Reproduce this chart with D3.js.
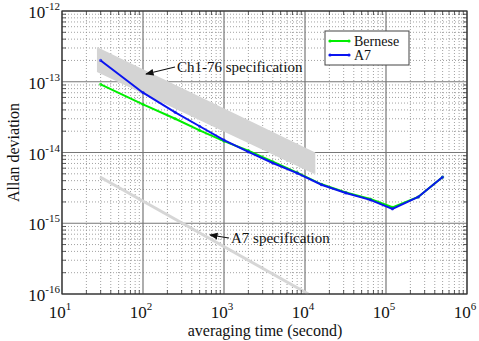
<!DOCTYPE html>
<html>
<head>
<meta charset="utf-8">
<script src="https://cdn.jsdelivr.net/npm/d3@7"></script>
<style>
  body { margin: 0; background: #fff; }
  text { font-family: "Liberation Serif", "Times New Roman", serif; fill: #111; }
</style>
</head>
<body>
<svg id="chart" width="479" height="341"></svg>
<script>
// averaging times (s) and Allan deviations
const tau = [30, 100, 250, 500, 1000, 2000, 4000, 8000, 16000, 32000, 64000, 120000, 250000, 500000];
const a7 = [2.0e-13, 7.0e-14, 3.7e-14, 2.35e-14, 1.5e-14, 1.02e-14, 7.1e-15, 5.1e-15, 3.5e-15, 2.68e-15, 2.14e-15, 1.6e-15, 2.35e-15, 4.5e-15];
const bernese = [9.2e-14, 4.8e-14, 3.0e-14, 2.05e-14, 1.45e-14, 1.06e-14, 7.4e-15, 5.2e-15, 3.55e-15, 2.72e-15, 2.2e-15, 1.68e-15, 2.35e-15, 4.5e-15];

// specification regions
const ch176Tau = [27, 13400];
const ch176Upper = [3.1e-13, 1.0e-14];
const ch176Lower = [1.37e-13, 4.9e-15];
const a7SpecTau = [29.5, 11000];
const a7SpecVal = [4.5e-15, 1.0e-16];

const xDecades = [1e1, 1e2, 1e3, 1e4, 1e5, 1e6];
const yDecades = [1e-16, 1e-15, 1e-14, 1e-13, 1e-12];

var svg = d3.select("#chart"),
  pLeft = 62, pTop = 11, pRight = 467, pBottom = 294;

var x = d3.scaleLog().domain([1e1, 1e6]).range([pLeft, pRight]);
var y = d3.scaleLog().domain([1e-16, 1e-12]).range([pBottom, pTop]);

// minor values in each decade
function minors(decades) {
  var out = [];
  decades.slice(0, -1).forEach(d => {
    for (var k = 2; k <= 9; k++) out.push(d * k);
  });
  return out;
}
var xMinor = minors(xDecades), yMinor = minors(yDecades);

// grid
var grid = svg.append("g");
grid.selectAll(".xm").data(xMinor).enter().append("line")
  .attr("x1", d => x(d)).attr("x2", d => x(d))
  .attr("y1", pTop).attr("y2", pBottom)
  .attr("stroke", "#8a8a8a").attr("stroke-width", 0.8).attr("stroke-dasharray", "1,2");
grid.selectAll(".ym").data(yMinor).enter().append("line")
  .attr("y1", d => y(d)).attr("y2", d => y(d))
  .attr("x1", pLeft).attr("x2", pRight)
  .attr("stroke", "#8a8a8a").attr("stroke-width", 0.8).attr("stroke-dasharray", "1,2");
grid.selectAll(".xM").data(xDecades).enter().append("line")
  .attr("x1", d => x(d)).attr("x2", d => x(d))
  .attr("y1", pTop).attr("y2", pBottom)
  .attr("stroke", "#777").attr("stroke-width", 1.2);
grid.selectAll(".yM").data(yDecades).enter().append("line")
  .attr("y1", d => y(d)).attr("y2", d => y(d))
  .attr("x1", pLeft).attr("x2", pRight)
  .attr("stroke", "#777").attr("stroke-width", 1.2);

// specification shapes
var bandData = ch176Tau.map((t, i) => ({ t: t, hi: ch176Upper[i], lo: ch176Lower[i] }));
svg.append("path")
  .datum(bandData)
  .attr("fill", "#d4d4d4")
  .attr("d", d3.area().x(d => x(d.t)).y0(d => y(d.lo)).y1(d => y(d.hi)));

svg.append("path")
  .datum(a7SpecTau.map((t, i) => [t, a7SpecVal[i]]))
  .attr("fill", "none").attr("stroke", "#d6d6d6").attr("stroke-width", 3)
  .attr("d", d3.line().x(d => x(d[0])).y(d => y(d[1])));

// data lines
var line = d3.line().x(d => x(d[0])).y(d => y(d[1]));
var series = [
  { name: "Bernese", vals: bernese, color: "#00ee00" },
  { name: "A7", vals: a7, color: "#0a14f0" }
];
series.forEach(s => {
  var pts = tau.map((t, i) => [t, s.vals[i]]);
  svg.append("path").datum(pts)
    .attr("fill", "none").attr("stroke", s.color).attr("stroke-width", 2)
    .attr("d", line);
  svg.append("g").selectAll("circle").data(pts).enter().append("circle")
    .attr("cx", d => x(d[0])).attr("cy", d => y(d[1])).attr("r", 1.6)
    .attr("fill", s.color).attr("opacity", 0.7);
});

// frame and inner ticks
svg.append("rect").attr("x", pLeft).attr("y", pTop)
  .attr("width", pRight - pLeft).attr("height", pBottom - pTop)
  .attr("fill", "none").attr("stroke", "#333").attr("stroke-width", 1.2);

function ticks(vals, len, horiz) {
  var g = svg.append("g").attr("stroke", "#333").attr("stroke-width", 0.8);
  vals.forEach(v => {
    if (horiz) {
      g.append("line").attr("x1", x(v)).attr("x2", x(v)).attr("y1", pBottom).attr("y2", pBottom - len);
      g.append("line").attr("x1", x(v)).attr("x2", x(v)).attr("y1", pTop).attr("y2", pTop + len);
    } else {
      g.append("line").attr("y1", y(v)).attr("y2", y(v)).attr("x1", pLeft).attr("x2", pLeft + len);
      g.append("line").attr("y1", y(v)).attr("y2", y(v)).attr("x1", pRight).attr("x2", pRight - len);
    }
  });
}
ticks(xMinor, 4, true);
ticks(yMinor, 4, false);

// tick labels with superscripts
var xl = svg.append("g").selectAll("text").data(xDecades).enter().append("text")
  .attr("x", d => x(d) - 2).attr("y", pBottom + 24)
  .attr("text-anchor", "middle").style("font-size", "17px");
xl.append("tspan").text("10");
xl.append("tspan").attr("dy", -8).style("font-size", "11px").text(d => Math.round(Math.log10(d)));

var yl = svg.append("g").selectAll("text").data(yDecades).enter().append("text")
  .attr("x", pLeft - 2).attr("y", d => y(d) + 7)
  .attr("text-anchor", "end").style("font-size", "17px");
yl.append("tspan").text("10");
yl.append("tspan").attr("dy", -8).style("font-size", "11px").text(d => Math.round(Math.log10(d)));

// axis titles
svg.append("text").attr("x", 265).attr("y", 336)
  .attr("text-anchor", "middle").style("font-size", "16px")
  .text("averaging time (second)");
svg.append("text").attr("transform", "translate(19," + (pBottom + pTop) / 2 + ") rotate(-90)")
  .attr("text-anchor", "middle").style("font-size", "16px")
  .text("Allan deviation");

// annotations
svg.append("defs").append("marker").attr("id", "arr")
  .attr("viewBox", "0 0 10 10").attr("refX", 9).attr("refY", 5)
  .attr("markerWidth", 7).attr("markerHeight", 7).attr("orient", "auto")
  .append("path").attr("d", "M0,1 L10,5 L0,9 Z").attr("fill", "#111");

svg.append("line").attr("x1", 175).attr("y1", 67).attr("x2", 146).attr("y2", 74)
  .attr("stroke", "#111").attr("stroke-width", 1.2).attr("marker-end", "url(#arr)");
svg.append("text").attr("x", 177).attr("y", 72).style("font-size", "15px")
  .text("Ch1-76 specification");

svg.append("line").attr("x1", 229).attr("y1", 238).attr("x2", 210).attr("y2", 235)
  .attr("stroke", "#111").attr("stroke-width", 1.2).attr("marker-end", "url(#arr)");
svg.append("text").attr("x", 231).attr("y", 243).style("font-size", "15px")
  .text("A7 specification");

// legend
var lg = svg.append("g").attr("transform", "translate(325,31)");
lg.append("rect").attr("width", 84).attr("height", 34)
  .attr("fill", "#fff").attr("stroke", "#444").attr("stroke-width", 1);
series.forEach((s, i) => {
  var yy = 10 + i * 14;
  lg.append("line").attr("x1", 5).attr("x2", 24).attr("y1", yy).attr("y2", yy)
    .attr("stroke", s.color).attr("stroke-width", 2);
  lg.selectAll(null).data([5, 24]).enter().append("circle")
    .attr("cx", d => d).attr("cy", yy).attr("r", 1.6).attr("fill", s.color);
  lg.append("text").attr("x", 29).attr("y", yy + 5).style("font-size", "14px").text(s.name);
});
</script>
</body>
</html>
